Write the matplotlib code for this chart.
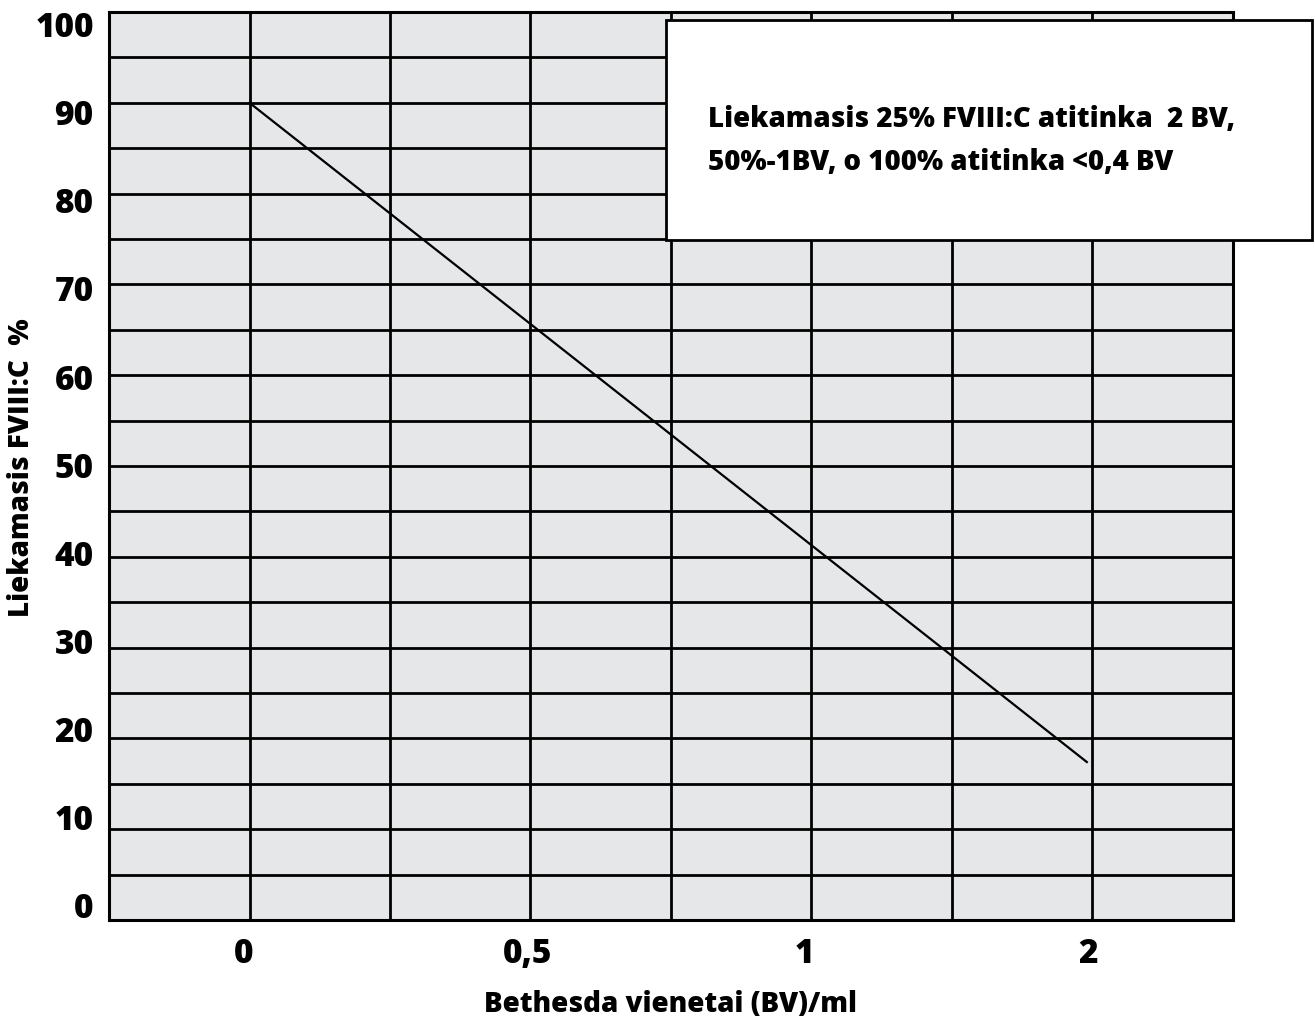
import matplotlib.pyplot as plt
from matplotlib.patches import Rectangle
from matplotlib.ticker import MultipleLocator

plt.rcParams['font.family'] = ['Open Sans', 'DejaVu Sans']
plt.rcParams['font.weight'] = 'bold'

# duomenys (x - grafiko padalos, 0 ir 3 atitinka 0 ir 2 BV)
linija_x = [0, 2.98]
linija_y = [90, 17.4]

x_zymes = ["0", "0,5", "1", "2"]
x_zymiu_vietos = [-0.02, 0.99, 1.975, 2.985]
y_zymes = [0, 10, 20, 30, 40, 50, 60, 70, 80, 90, 100]

tekstas = "Liekamasis 25% FVIII:C atitinka  2 BV,\n50%-1BV, o 100% atitinka <0,4 BV"

fig = plt.figure(figsize=(13.15, 10.26), dpi=100)
ax = fig.add_axes([0.0829, 0.1033, 0.8547, 0.885])
ax.set_facecolor("#e6e7e8")

ax.set_xlim(-0.5, 3.5)
ax.set_ylim(0, 100)

# tinklelis
ax.xaxis.set_minor_locator(MultipleLocator(0.5))
ax.yaxis.set_minor_locator(MultipleLocator(5))
ax.grid(which="minor", color="black", linewidth=2.0)
ax.set_axisbelow(True)
for s in ax.spines.values():
    s.set_linewidth(2.2)
    s.set_color("black")

# kreivė
ax.plot(linija_x, linija_y, color="black", linewidth=1.6)

# ašių žymės (y žymės šiek tiek pasislinkusios kaip originale)
ax.set_xticks(x_zymiu_vietos)
ax.set_xticklabels(x_zymes, fontsize=24, fontweight="heavy")
ax.set_yticks([1.65 + v * 0.97 for v in y_zymes])
ax.set_yticklabels([str(v) for v in y_zymes], fontsize=24, fontweight="heavy")
ax.tick_params(which="both", length=0)
ax.tick_params(axis="x", pad=12)
ax.tick_params(axis="y", pad=11)

fig.text(670 / 1315, 1 - 1005 / 1026, "Bethesda vienetai (BV)/ml", fontsize=20,
         fontweight="heavy", ha="center", va="center")
fig.text(22 / 1315, 1 - 468 / 1026, "Liekamasis FVIII:C  %", fontsize=20,
         fontweight="heavy", ha="center", va="center", rotation=90)

# paaiškinimo langelis
ax.add_patch(Rectangle((0.4956, 0.749), 0.5747, 0.242, transform=ax.transAxes,
                       facecolor="white", edgecolor="black", linewidth=2, clip_on=False, zorder=5))
ax.text(0.533, 0.858, tekstas, transform=ax.transAxes, fontsize=19.9, fontweight="heavy",
        va="center", ha="left", linespacing=1.65, zorder=6)

plt.savefig("out.png", dpi=100)
